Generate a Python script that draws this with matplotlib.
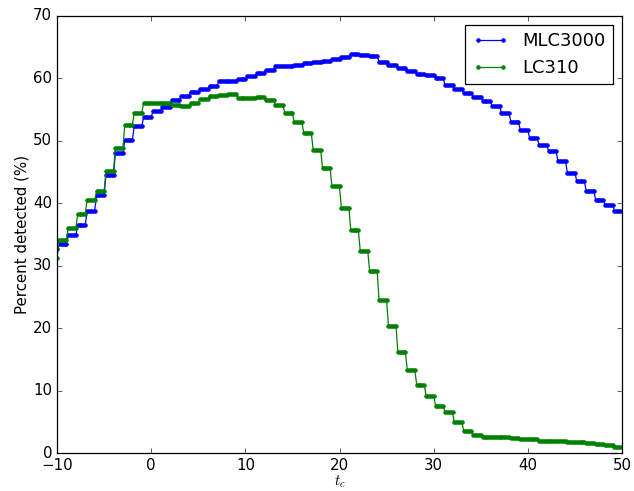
import numpy as np
import matplotlib
matplotlib.use("Agg")
import matplotlib.pyplot as plt

plt.style.use("classic")

# Detection fraction per unit interval of t_c.
# Entry 0 is the value at t_c = -10, entry i (i >= 1) holds the level on (-11+i, -10+i].
mlc3000 = [
    32.6,
    33.4, 34.9, 36.5, 38.8, 41.3, 44.5, 48.0, 50.1, 52.3, 53.8,   # -10 .. 0
    54.8, 55.5, 56.5, 57.2, 57.9, 58.3, 58.8, 59.6, 59.6, 59.9,   # 0 .. 10
    60.4, 60.8, 61.3, 62.0, 62.0, 62.2, 62.4, 62.6, 62.8, 63.1,   # 10 .. 20
    63.5, 63.9, 63.8, 63.6, 62.7, 62.2, 61.6, 61.2, 60.7, 60.5,   # 20 .. 30
    60.1, 58.9, 58.3, 57.6, 57.1, 56.4, 55.6, 54.4, 53.1, 51.7,   # 30 .. 40
    50.4, 49.3, 48.4, 46.7, 44.9, 43.5, 42.0, 40.6, 39.8, 38.8,   # 40 .. 50
]
lc310 = [
    31.2,
    34.1, 36.1, 38.3, 40.5, 41.9, 45.1, 48.8, 52.6, 54.4, 56.1,   # -10 .. 0
    56.1, 56.1, 55.8, 55.6, 56.1, 56.7, 57.2, 57.4, 57.5, 56.9,   # 0 .. 10
    56.8, 57.0, 56.6, 55.7, 54.4, 53.0, 51.3, 48.6, 45.6, 42.7,   # 10 .. 20
    39.2, 35.7, 32.4, 29.1, 24.5, 20.3, 16.1, 13.3, 10.9, 9.2,    # 20 .. 30
    7.6, 6.5, 4.9, 3.5, 2.9, 2.6, 2.6, 2.5, 2.4, 2.3,             # 30 .. 40
    2.2, 2.0, 1.9, 1.9, 1.8, 1.7, 1.6, 1.5, 1.3, 1.0,             # 40 .. 50
]
series_names = ["MLC3000", "LC310"]
t_start, t_stop = -10, 50
samples_per_unit = 5

# Sample t_c on a fine grid; each sample takes the level of its interval.
k = np.arange((t_stop - t_start) * samples_per_unit + 1)
t_c = t_start + k / samples_per_unit
level_idx = (k + samples_per_unit - 1) // samples_per_unit

DPI = 90
W, H = 634, 491
fig = plt.figure(figsize=(W / DPI, H / DPI), dpi=DPI)
ax = fig.add_axes([57 / W, 1 - 453 / H, (622 - 57) / W, (453 - 16) / H])

ax.plot(t_c, np.asarray(mlc3000)[level_idx], "b.-", label=series_names[0])
ax.plot(t_c, np.asarray(lc310)[level_idx], "g.-", label=series_names[1])

ax.set_xlim(-10, 50)
ax.set_ylim(0, 70)
ax.set_xlabel(r"$t_c$", labelpad=0)
ax.set_ylabel("Percent detected (%)", labelpad=2.5)
ax.legend(loc="upper right")

fig.savefig("out.png", dpi=DPI)
